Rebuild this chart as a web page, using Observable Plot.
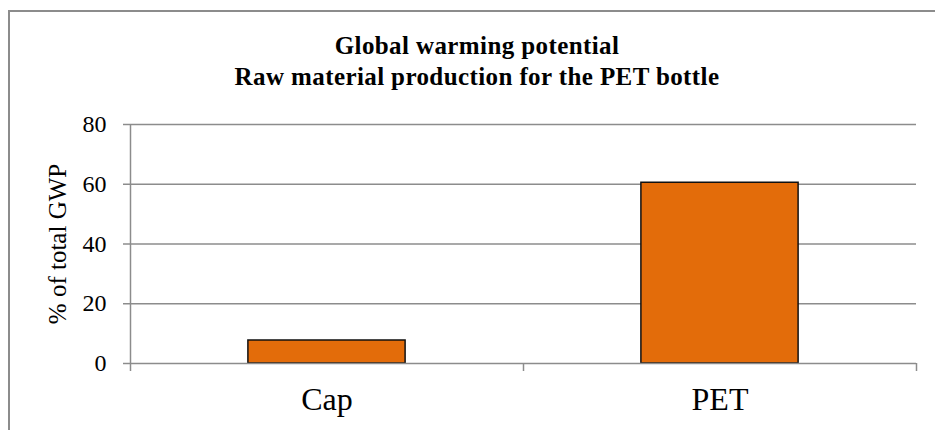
<!DOCTYPE html>
<html><head><meta charset="utf-8">
<script src="https://cdn.jsdelivr.net/npm/d3@7"></script>
<script src="https://cdn.jsdelivr.net/npm/@observablehq/plot@0.6"></script>
<style>
body{margin:0;background:#fff;}
#wrap{position:relative;width:935px;height:430px;overflow:hidden;font-family:"Liberation Serif",serif;}
#frame{position:absolute;left:8px;top:10px;width:1000px;height:500px;border-left:2px solid #8c8c8c;border-top:2px solid #8c8c8c;}
#title{position:absolute;left:9px;width:936px;top:30px;text-align:center;font-weight:bold;font-size:25px;line-height:31px;letter-spacing:0.4px;color:#000;}
#chart{position:absolute;left:0;top:0;}
</style></head><body>
<div id="wrap"><div id="frame"></div><div id="title">Global warming potential<br>Raw material production for the PET bottle</div><div id="chart"></div></div>
<script>
const categories = ["Cap", "PET"];
const values = [7.7, 60.5];
const yTicks = [0, 20, 40, 60, 80];
const yLabel = "% of total GWP";
const data = categories.map((c, i) => ({i, category: c, value: values[i]}));
const grid = "#8c8c8c";
const plot = Plot.plot({
  width: 935, height: 430,
  marginLeft: 130, marginRight: 19, marginTop: 124, marginBottom: 67,
  style: {fontFamily: "'Liberation Serif', serif", background: "transparent", color: "black"},
  x: {domain: [0, categories.length], axis: null},
  y: {domain: [0, 80], axis: null},
  marks: [
    Plot.ruleY(yTicks.filter(t => t > 0), {stroke: grid, strokeWidth: 1.5}),
    Plot.rectY(data, {x1: d => d.i + 0.3, x2: d => d.i + 0.7, y: "value", fill: "#E36C0A", stroke: "#111", strokeWidth: 1.5}),
    Plot.ruleY([0], {stroke: grid, strokeWidth: 1.5}),
    Plot.ruleX([0], {y1: 0, y2: 80, stroke: grid, strokeWidth: 1.5}),
    Plot.axisX({ticks: d3.range(categories.length + 1), tickSize: 8, tickFormat: () => "", stroke: grid, strokeWidth: 1.5}),
    Plot.axisY({ticks: yTicks, tickSize: 7, tickFormat: () => "", label: null, stroke: grid, strokeWidth: 1.5}),
    Plot.text(yTicks, {y: d => d, text: d => String(d), frameAnchor: "left", textAnchor: "end", dx: -24, fontSize: 24, fill: "black"}),
    Plot.text(data, {x: d => d.i + 0.5, y: 0, text: "category", dy: 36, fontSize: 32, fill: "black"}),
    Plot.text([yLabel], {text: d => d, frameAnchor: "left", textAnchor: "middle", dx: -73, rotate: -90, fontSize: 25, fill: "black"})
  ]
});
document.getElementById("chart").appendChild(plot);
</script>
</body></html>
